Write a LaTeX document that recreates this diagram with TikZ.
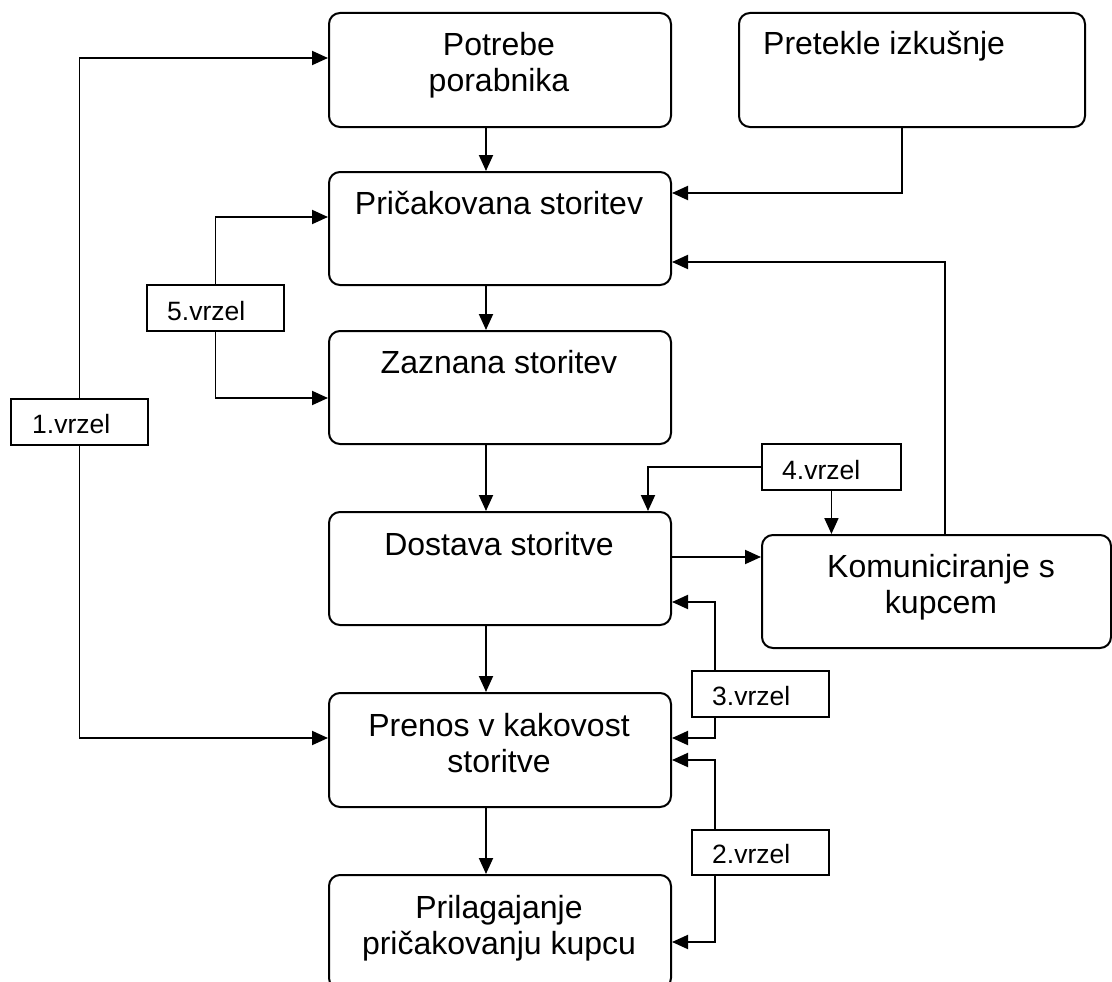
\documentclass[tikz,border=0pt]{standalone}
\usepackage{fontspec}
\setmainfont{Liberation Sans}
\usetikzlibrary{arrows.meta}
\begin{document}
\begin{tikzpicture}[x=1pt,y=-1pt,
  box/.style={draw,line width=2pt,rounded corners=11pt,anchor=north west,inner sep=0pt},
  gapbox/.style={draw,line width=1.9pt,anchor=north west,inner sep=0pt,minimum width=137pt,minimum height=46pt},
  main/.style={font=\fontsize{32}{36}\selectfont,align=center,inner sep=0pt},
  lbl/.style={font=\fontsize{26.5}{30}\selectfont,inner sep=0pt,anchor=base west},
  arr/.style={line width=1.9pt,-{Triangle[length=16pt,width=14pt]}}]
\clip (0,0) rectangle (1112,982);
\fill[white] (0,0) rectangle (1112,982);

% main column
\node[box,minimum width=342pt,minimum height=114pt] (potrebe) at (328,12) {};
\node[box,minimum width=342pt,minimum height=113pt] (prick) at (328,171) {};
\node[box,minimum width=342pt,minimum height=113pt] (zaznana) at (328,330) {};
\node[box,minimum width=342pt,minimum height=113pt] (dostava) at (328,511) {};
\node[box,minimum width=342pt,minimum height=114pt] (prenos) at (328,692) {};
\node[box,minimum width=342pt,minimum height=114pt] (prilag) at (328,874) {};
% right side
\node[box,minimum width=346pt,minimum height=114pt] (pretekle) at (738,12) {};
\node[box,minimum width=349pt,minimum height=113pt] (komun) at (761,534) {};

% texts of the boxes
\node[main] (tpotrebe) at (499,65) {Potrebe\\porabnika};
\node[main,anchor=base] (tprick) at (499,214) {Pričakovana storitev};
\node[main,anchor=base] (tzaznana) at (499,373) {Zaznana storitev};
\node[main,anchor=base] (tdostava) at (499,555) {Dostava storitve};
\node[main] (tprenos) at (499,743.5) {Prenos v kakovost\\storitve};
\node[main] (tprilag) at (499,928) {Prilagajanje\\pričakovanju kupcu};
\node[main,anchor=base west] (tpretekle) at (763,55) {Pretekle izkušnje};
\node[main] (tkomun) at (941,587) {Komuniciranje s\\kupcem};

% gap boxes
\node[gapbox] (g1) at (10,398) {};
\node[gapbox] (g5) at (146,284) {};
\node[gapbox,minimum width=139pt] (g4) at (761,443) {};
\node[gapbox,minimum width=137pt] (g3) at (691,670) {};
\node[gapbox,minimum width=137pt,minimum height=45pt] (g2) at (691,829) {};
\node[lbl] (tg1) at (32,433) {1.vrzel};
\node[lbl] (tg5) at (167,320) {5.vrzel};
\node[lbl] (tg4) at (782,479) {4.vrzel};
\node[lbl] (tg3) at (712,705) {3.vrzel};
\node[lbl] (tg2) at (712,863) {2.vrzel};

% main flow
\coordinate (cx) at (486,0);
\draw[arr] (potrebe.south -| cx) -- (prick.north -| cx);
\draw[arr] (prick.south -| cx) -- (zaznana.north -| cx);
\draw[arr] (zaznana.south -| cx) -- (dostava.north -| cx);
\draw[arr] (dostava.south -| cx) -- (prenos.north -| cx);
\draw[arr] (prenos.south -| cx) -- (prilag.north -| cx);

% side connectors
\draw[arr] ([xshift=-184pt]pretekle.south east) |- ([yshift=-22pt]prick.north east);
\draw[arr] ([xshift=184pt]komun.north west) |- ([yshift=-91pt]prick.north east);
\draw[arr] ([yshift=-46pt]dostava.north east) -- ([yshift=-23pt]komun.north west);

% gap connectors
\draw[arr] (g1.north) |- ([yshift=-46pt]potrebe.north west);
\draw[arr] (g1.south) |- ([yshift=-46pt]prenos.north west);
\draw[arr] (g5.north) |- ([yshift=-46pt]prick.north west);
\draw[arr] (g5.south) |- ([yshift=-68pt]zaznana.north west);
\draw[arr] (g4.west) -| ([xshift=-24pt]dostava.north east);
\draw[arr] (g4.south) -- (g4.south |- komun.north);
\draw[arr] ([xshift=24pt]g3.north west) |- ([yshift=-91pt]dostava.north east);
\draw[arr] ([xshift=24pt]g3.south west) |- ([yshift=-46pt]prenos.north east);
\draw[arr] ([xshift=24pt]g2.north west) |- ([yshift=-68pt]prenos.north east);
\draw[arr] ([xshift=24pt]g2.south west) |- ([yshift=-68pt]prilag.north east);
\end{tikzpicture}
\end{document}
